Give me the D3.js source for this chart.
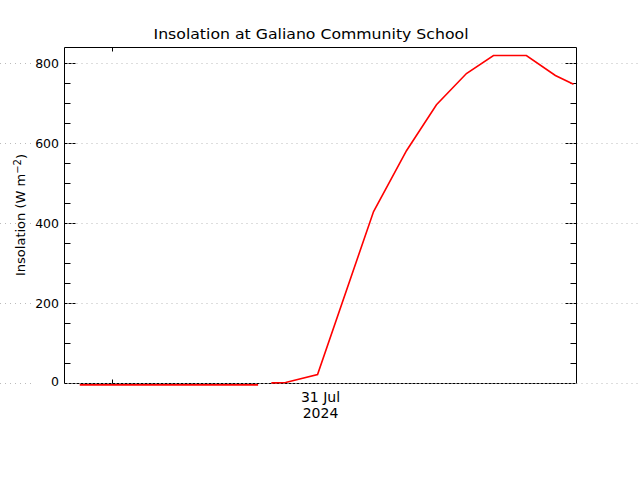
<!DOCTYPE html>
<html>
<head>
<meta charset="utf-8">
<script src="https://cdn.jsdelivr.net/npm/d3@7"></script>
<style>
  html, body { margin: 0; padding: 0; background: #fff; }
  svg { display: block; }
  text { font-family: "DejaVu Sans", sans-serif; fill: #000; }
</style>
</head>
<body>
<svg id="chart" width="640" height="480"></svg>
<script>
// ---- data ----
const title = "Insolation at Galiano Community School";
const yLabel = "Insolation (W m";
const xDomain = ["2024-07-30T22:24", "2024-07-31T15:46"];
const times = ["2024-07-30T22:55", "2024-07-31T04:58", "2024-07-31T05:12", "2024-07-31T05:25",
               "2024-07-31T05:54", "2024-07-31T06:59", "2024-07-31T08:53", "2024-07-31T10:00",
               "2024-07-31T11:01", "2024-07-31T12:02", "2024-07-31T12:57", "2024-07-31T14:04",
               "2024-07-31T15:03", "2024-07-31T15:40"];
const values = [-3.5, -3.5, null, 1.5, 2.5, 22.5, 430, 582, 697, 775, 820, 820, 770, 748];
const yMajorTicks = [0, 200, 400, 600, 800];
const yMinorStep = 50;
const yDomain = [0, 840];
const dateLine1 = "31 Jul";
const dateLine2 = "2024";

// ---- layout ----
const W = 640, H = 480;
const mLeft = 64.5, mRight = 576.5, mTop = 47.5, mBottom = 383.5;
const parse = d3.timeParse("%Y-%m-%dT%H:%M");

const x = d3.scaleTime().domain(xDomain.map(parse)).range([mLeft, mRight]);
const y = d3.scaleLinear().domain(yDomain).range([mBottom, mTop]);

const svg = d3.select("#chart");

// gridlines (dotted grey, full width)
const grid = svg.append("g");
yMajorTicks.forEach(v => {
  grid.append("line").attr("x1", 0).attr("x2", 31).attr("y1", y(v)).attr("y2", y(v))
    .attr("stroke", "#bbb").attr("stroke-dasharray", "1,4");
  grid.append("line").attr("x1", mLeft + 2).attr("x2", W).attr("y1", y(v)).attr("y2", y(v))
    .attr("stroke", "#bbb").attr("stroke-dasharray", "1,4");
});

// frame
const frame = svg.append("g").attr("stroke", "#000").attr("stroke-width", 1);
frame.append("line").attr("x1", mLeft).attr("x2", mRight).attr("y1", mTop).attr("y2", mTop);
frame.append("line").attr("x1", mLeft).attr("x2", mLeft).attr("y1", mTop).attr("y2", mBottom);
frame.append("line").attr("x1", mRight).attr("x2", mRight).attr("y1", mTop).attr("y2", mBottom);
frame.append("line").attr("x1", mLeft).attr("x2", mRight).attr("y1", mBottom).attr("y2", mBottom)
  .attr("stroke-dasharray", "3,1");

// y minor ticks
const minor = d3.range(yDomain[0], yDomain[1] + 0.001, yMinorStep).filter(v => !yMajorTicks.includes(v));
minor.forEach(v => {
  frame.append("line").attr("x1", mLeft).attr("x2", mLeft + 6).attr("y1", y(v)).attr("y2", y(v));
  frame.append("line").attr("x1", mRight - 6).attr("x2", mRight).attr("y1", y(v)).attr("y2", y(v));
});
// y major ticks (dashed)
yMajorTicks.filter(v => v > 0).forEach(v => {
  frame.append("line").attr("x1", mLeft).attr("x2", mLeft + 12).attr("y1", y(v)).attr("y2", y(v))
    .attr("stroke-dasharray", "3,1");
  frame.append("line").attr("x1", mRight - 11).attr("x2", mRight).attr("y1", y(v)).attr("y2", y(v))
    .attr("stroke-dasharray", "3,1");
});

// y tick labels
svg.append("g").selectAll("text").data(yMajorTicks).join("text")
  .attr("x", 59).attr("y", d => y(d) - (d === 0 ? 2 : 0))
  .attr("dy", "0.36em").attr("text-anchor", "end").attr("font-size", 12.5)
  .text(d => d);

// x ticks (day boundaries)
const dayTicks = x.ticks(d3.timeDay.every(1));
dayTicks.forEach(t => {
  const xt = Math.round(x(t)) + 0.5;
  frame.append("line").attr("x1", xt).attr("x2", xt).attr("y1", mBottom).attr("y2", mBottom - 4);
  frame.append("line").attr("x1", xt).attr("x2", xt).attr("y1", mTop).attr("y2", mTop + 4);
});

// x date label, centred under the axis
const xc = (mLeft + mRight) / 2;
svg.append("text").attr("x", xc).attr("y", 402).attr("text-anchor", "middle").attr("font-size", 14).text(dateLine1);
svg.append("text").attr("x", xc).attr("y", 418).attr("text-anchor", "middle").attr("font-size", 14).text(dateLine2);

// title
svg.append("text").attr("x", 311).attr("y", 39).attr("text-anchor", "middle")
  .attr("font-size", 14.5).attr("textLength", 315).attr("lengthAdjust", "spacingAndGlyphs").text(title);

// y axis label
const yl = svg.append("text").attr("transform", "translate(25,215) rotate(-90)")
  .attr("text-anchor", "middle").attr("font-size", 13);
yl.append("tspan").text(yLabel);
yl.append("tspan").attr("dy", "-0.45em").attr("font-size", 10).text("\u22122");
yl.append("tspan").attr("dy", "0.45em").text(")");

// data line
const data = times.map((t, i) => ({ t: parse(t), v: values[i] }));
const line = d3.line().defined(d => d.v !== null).x(d => x(d.t)).y(d => y(d.v));
svg.append("path").datum(data).attr("d", line)
  .attr("fill", "none").attr("stroke", "#ff0000").attr("stroke-width", 1.6);
</script>
</body>
</html>
